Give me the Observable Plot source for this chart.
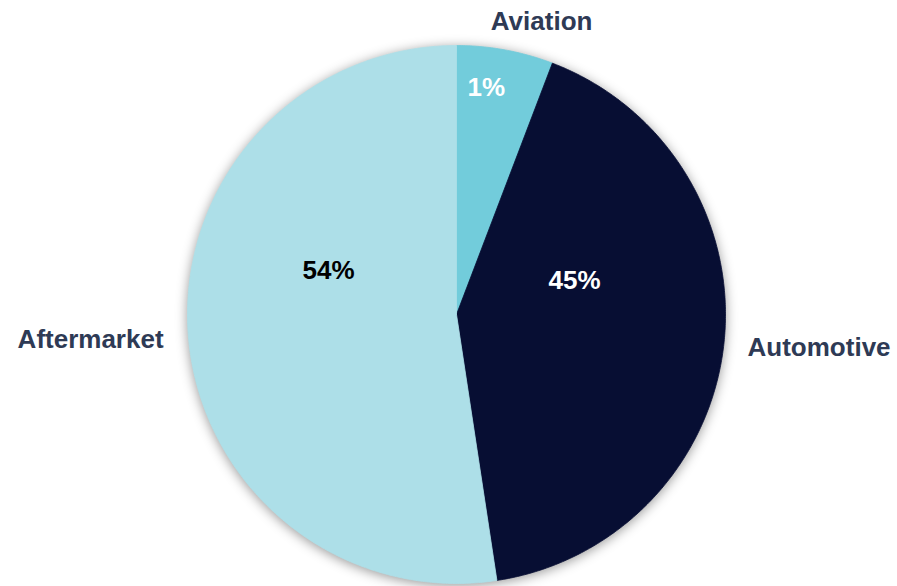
<!DOCTYPE html>
<html><head><meta charset="utf-8">
<script src="https://cdn.jsdelivr.net/npm/d3@7"></script>
<script src="https://cdn.jsdelivr.net/npm/@observablehq/plot@0.6"></script>
<style>
html,body{margin:0;padding:0;background:#fff;}
#chart svg g[aria-label="line"]{filter:drop-shadow(0px 2px 6px rgba(0,0,0,0.4));}
</style></head><body><div id="chart"></div>
<script>
// Data
const categories = ["Aviation", "Automotive", "Aftermarket"];
const shares = [5.8, 41.8, 52.4];          // visual slice sizes (%)
const valueLabels = ["1%", "45%", "54%"];   // printed labels
const colors = ["#72CCDB", "#070E33", "#ADDFE8"];

// Layout (polar positions of labels, in degrees clockwise from top; radius in pie radii)
const innerLayout = [{a: 7.5, r: 0.85, fill: "#ffffff"}, {a: 73.9, r: 0.457, fill: "#ffffff"}, {a: 289.0, r: 0.503, fill: "#000000"}];
const outerLayout = [{a: 16.2, r: 1.134, anchor: "middle"}, {a: 96.5, r: 1.089, anchor: "start"}, {a: 265.1, r: 1.093, anchor: "end"}];

const W = 897, H = 586, CX = 456, CY = 314, R = 269;

const arcs = d3.pie().sort(null).value(d => d.v)(categories.map((c, i) => ({c, v: shares[i]})));
const pts = [];
arcs.forEach(a => {
  const c = a.data.c;
  pts.push({c, x: 0, y: 0});
  const n = Math.max(2, Math.ceil((a.endAngle - a.startAngle) / (Math.PI / 360)));
  for (let k = 0; k <= n; k++) {
    const t = a.startAngle + (a.endAngle - a.startAngle) * k / n;
    pts.push({c, x: Math.sin(t), y: Math.cos(t)});
  }
  pts.push({c, x: 0, y: 0});
});

const rad = d => d * Math.PI / 180;
const inner = categories.map((c, i) => ({label: valueLabels[i], fill: innerLayout[i].fill,
  x: innerLayout[i].r * Math.sin(rad(innerLayout[i].a)), y: innerLayout[i].r * Math.cos(rad(innerLayout[i].a))}));
const outer = categories.map((c, i) => ({label: c, anchor: outerLayout[i].anchor,
  x: outerLayout[i].r * Math.sin(rad(outerLayout[i].a)), y: outerLayout[i].r * Math.cos(rad(outerLayout[i].a))}));

const textOpts = {x: "x", y: "y", text: "label", fontSize: 26, fontWeight: "bold"};
const chart = Plot.plot({
  width: W, height: H, margin: 0,
  style: {fontFamily: "'Liberation Sans', Arial, sans-serif", background: "#fff"},
  x: {domain: [-CX / R, (W - CX) / R], axis: null},
  y: {domain: [-(H - CY) / R, CY / R], axis: null},
  color: {domain: categories, range: colors},
  marks: [
    Plot.line(pts, {x: "x", y: "y", z: "c", fill: "c", stroke: "c", strokeWidth: 0.8, curve: "linear"}),
    Plot.text(inner.filter(d => d.fill === "#ffffff"), {...textOpts, fill: "#ffffff"}),
    Plot.text(inner.filter(d => d.fill === "#000000"), {...textOpts, fill: "#000000"}),
    ...["middle", "start", "end"].map(an => Plot.text(outer.filter(d => d.anchor === an), {...textOpts, textAnchor: an, fill: "#2E3A55"}))
  ]
});
document.getElementById("chart").appendChild(chart);
</script></body></html>
